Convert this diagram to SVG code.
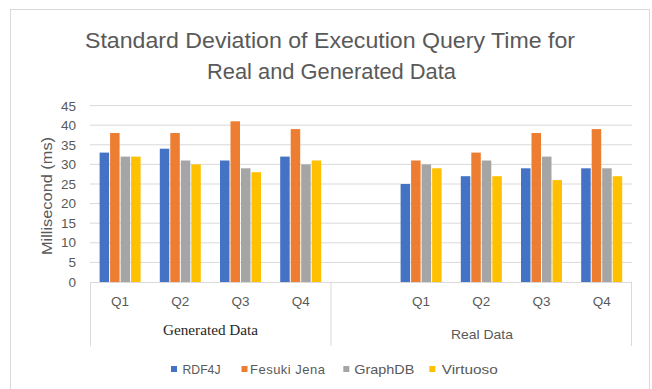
<svg xmlns="http://www.w3.org/2000/svg" width="652" height="389" viewBox="0 0 652 389">
<style>
.t{font-family:"Liberation Sans",Arial,sans-serif;fill:#595959}
.grid{stroke:#d9d9d9;stroke-width:1}
.ax{stroke:#d9d9d9;stroke-width:1}
.b1{fill:#4472c4}.b2{fill:#ed7d31}.b3{fill:#a5a5a5}.b4{fill:#ffc000}
</style>
<rect x="0" y="0" width="652" height="389" fill="#ffffff"/>
<rect x="10.5" y="9.5" width="639" height="395" fill="#ffffff" stroke="#d9d9d9" stroke-width="1"/>
<g id="title" class="t" text-anchor="middle">
<text x="330" y="47.5" font-size="22" textLength="490" lengthAdjust="spacingAndGlyphs">Standard Deviation  of Execution Query Time for</text>
<text x="331.5" y="78.5" font-size="22" textLength="249" lengthAdjust="spacingAndGlyphs">Real and Generated Data</text>
</g>
<g id="gridlines">
<line class="grid" x1="90" y1="105.6" x2="632" y2="105.6"/>
<line class="grid" x1="90" y1="125.2" x2="632" y2="125.2"/>
<line class="grid" x1="90" y1="144.8" x2="632" y2="144.8"/>
<line class="grid" x1="90" y1="164.4" x2="632" y2="164.4"/>
<line class="grid" x1="90" y1="184" x2="632" y2="184"/>
<line class="grid" x1="90" y1="203.6" x2="632" y2="203.6"/>
<line class="grid" x1="90" y1="223.2" x2="632" y2="223.2"/>
<line class="grid" x1="90" y1="242.8" x2="632" y2="242.8"/>
<line class="grid" x1="90" y1="262.4" x2="632" y2="262.4"/>
</g>
<g id="y-axis" class="t" font-size="13.5" text-anchor="end">
<text x="76" y="110.5">45</text>
<text x="76" y="130">40</text>
<text x="76" y="149.5">35</text>
<text x="76" y="169">30</text>
<text x="76" y="188.5">25</text>
<text x="76" y="208">20</text>
<text x="76" y="227.5">15</text>
<text x="76" y="247">10</text>
<text x="76" y="266.5">5</text>
<text x="76" y="286.5">0</text>
<text transform="translate(52,196) rotate(-90)" text-anchor="middle" font-size="15" textLength="118" lengthAdjust="spacingAndGlyphs">Millisecond (ms)</text>
</g>
<g id="series-rdf4j" class="b1">
<rect x="99.6" y="152.6" width="9.5" height="129.4"/>
<rect x="159.8" y="148.7" width="9.5" height="133.3"/>
<rect x="220" y="160.5" width="9.5" height="121.5"/>
<rect x="280.2" y="156.6" width="9.5" height="125.4"/>
<rect x="400.6" y="184" width="9.5" height="98"/>
<rect x="460.8" y="176.2" width="9.5" height="105.8"/>
<rect x="521" y="168.3" width="9.5" height="113.7"/>
<rect x="581.2" y="168.3" width="9.5" height="113.7"/>
</g>
<g id="series-fesuki-jena" class="b2">
<rect x="110.1" y="133" width="9.5" height="149"/>
<rect x="170.3" y="133" width="9.5" height="149"/>
<rect x="230.5" y="121.3" width="9.5" height="160.7"/>
<rect x="290.7" y="129.1" width="9.5" height="152.9"/>
<rect x="411.1" y="160.5" width="9.5" height="121.5"/>
<rect x="471.3" y="152.6" width="9.5" height="129.4"/>
<rect x="531.5" y="133" width="9.5" height="149"/>
<rect x="591.7" y="129.1" width="9.5" height="152.9"/>
</g>
<g id="series-graphdb" class="b3">
<rect x="120.6" y="156.6" width="9.5" height="125.4"/>
<rect x="180.8" y="160.5" width="9.5" height="121.5"/>
<rect x="241" y="168.3" width="9.5" height="113.7"/>
<rect x="301.2" y="164.4" width="9.5" height="117.6"/>
<rect x="421.6" y="164.4" width="9.5" height="117.6"/>
<rect x="481.8" y="160.5" width="9.5" height="121.5"/>
<rect x="542" y="156.6" width="9.5" height="125.4"/>
<rect x="602.2" y="168.3" width="9.5" height="113.7"/>
</g>
<g id="series-virtuoso" class="b4">
<rect x="131.1" y="156.6" width="9.5" height="125.4"/>
<rect x="191.3" y="164.4" width="9.5" height="117.6"/>
<rect x="251.5" y="172.2" width="9.5" height="109.8"/>
<rect x="311.7" y="160.5" width="9.5" height="121.5"/>
<rect x="432.1" y="168.3" width="9.5" height="113.7"/>
<rect x="492.3" y="176.2" width="9.5" height="105.8"/>
<rect x="552.5" y="180.1" width="9.5" height="101.9"/>
<rect x="612.7" y="176.2" width="9.5" height="105.8"/>
</g>
<g id="x-axis">
<line class="ax" x1="90" y1="282.5" x2="632" y2="282.5"/>
<line class="ax" x1="90.5" y1="282" x2="90.5" y2="346"/>
<line class="ax" x1="331" y1="282" x2="331" y2="346"/>
<line class="ax" x1="631.5" y1="282" x2="631.5" y2="346"/>
<g class="t" font-size="13.5" text-anchor="middle">
<text x="120.1" y="306">Q1</text>
<text x="180.3" y="306">Q2</text>
<text x="240.5" y="306">Q3</text>
<text x="300.7" y="306">Q4</text>
<text x="421.1" y="306">Q1</text>
<text x="481.3" y="306">Q2</text>
<text x="541.5" y="306">Q3</text>
<text x="601.7" y="306">Q4</text>
<text x="482" y="339" textLength="62" lengthAdjust="spacingAndGlyphs">Real Data</text>
</g>
<text x="210.5" y="335" text-anchor="middle" font-family="'Liberation Serif','Times New Roman',serif" font-size="14.5" fill="#262626" textLength="95" lengthAdjust="spacingAndGlyphs">Generated Data</text>
</g>
<g id="legend" class="t" font-size="13">
<rect class="b1" x="171" y="366" width="6" height="6"/>
<text x="182.5" y="373.5" textLength="38" lengthAdjust="spacingAndGlyphs">RDF4J</text>
<rect class="b2" x="241.5" y="366" width="6" height="6"/>
<text x="250" y="373.5" textLength="75" lengthAdjust="spacing">Fesuki Jena</text>
<rect class="b3" x="343.3" y="366" width="6" height="6"/>
<text x="354.3" y="373.5" textLength="60" lengthAdjust="spacingAndGlyphs">GraphDB</text>
<rect class="b4" x="429.3" y="366" width="6" height="6"/>
<text x="441.7" y="373.5" textLength="56" lengthAdjust="spacingAndGlyphs">Virtuoso</text>
</g>
</svg>
